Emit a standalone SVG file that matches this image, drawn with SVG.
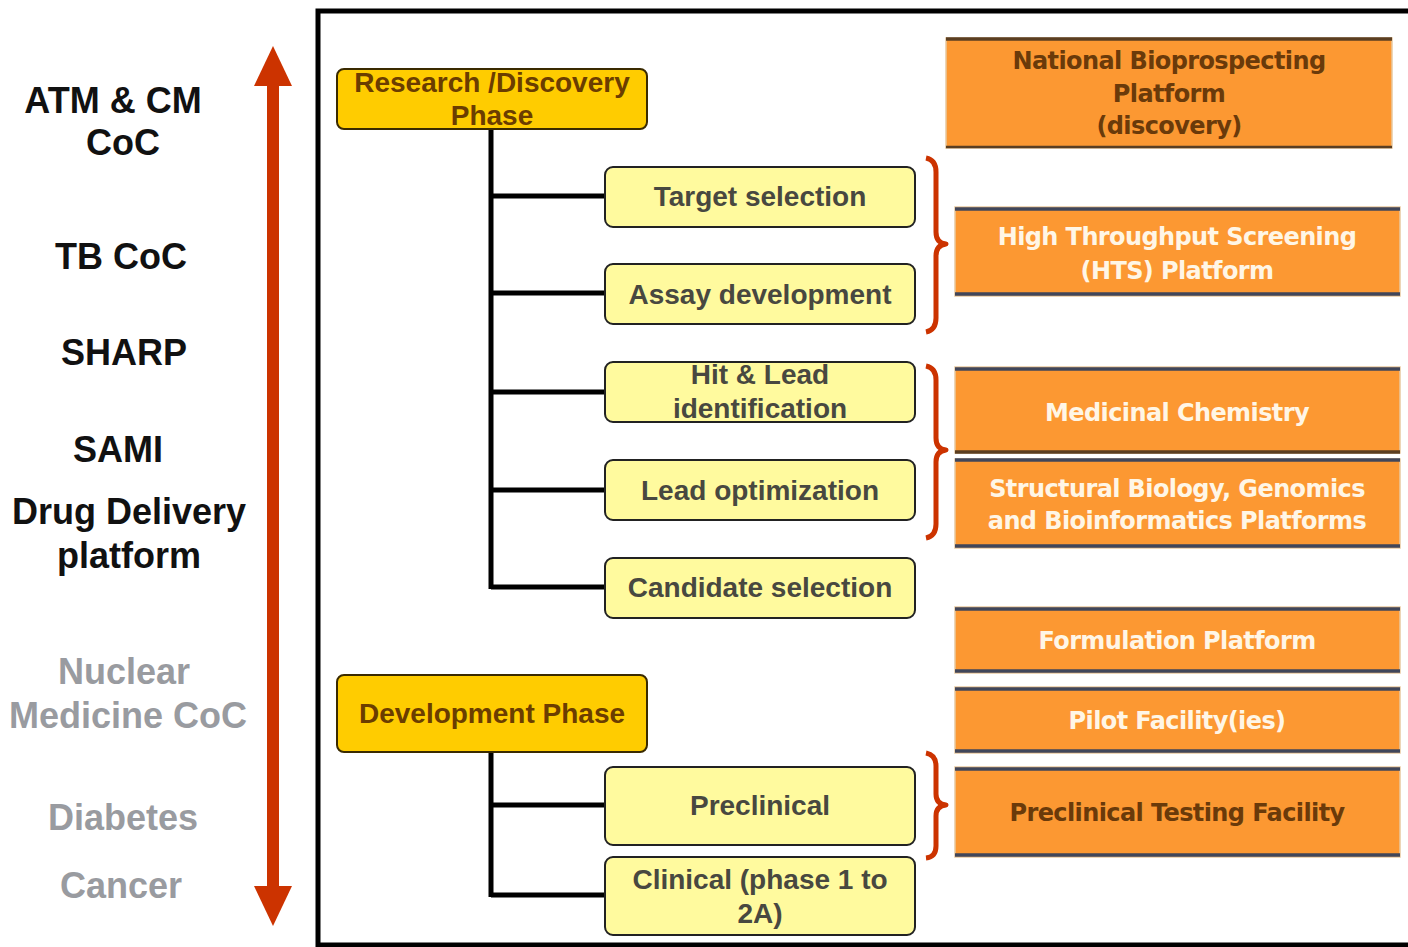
<svg xmlns="http://www.w3.org/2000/svg" width="1408" height="947" viewBox="0 0 1408 947">
<defs>
<style>
.lbl{font-family:"Liberation Sans",Arial,sans-serif;font-weight:bold;font-size:36px;text-anchor:middle}
.blk{fill:#111}
.gry{fill:#999ba0}
.phase{fill:#FFCC00;stroke:#3a2a00;stroke-width:2}
.ptxt{font-family:"Liberation Sans",Arial,sans-serif;font-weight:bold;font-size:28px;fill:#6b3d00;text-anchor:middle}
.step{fill:#FFFA9E;stroke:#222;stroke-width:2}
.stxt{font-family:"Liberation Sans",Arial,sans-serif;font-weight:bold;font-size:28px;fill:#484840;text-anchor:middle}
.plat{fill:#FC9832;stroke:#e8c9a0;stroke-width:1.5}
.edge{stroke:#40465a;stroke-width:3.5}
.otw{font-family:"DejaVu Sans",Verdana,sans-serif;font-weight:bold;font-size:24px;fill:#fff6e6;text-anchor:middle;letter-spacing:-0.6px}
.otd{font-family:"DejaVu Sans",Verdana,sans-serif;font-weight:bold;font-size:24px;fill:#6a3a0a;text-anchor:middle;letter-spacing:-0.6px}
.conn{stroke:#000;stroke-width:5;fill:none}
.brace{stroke:#CC3300;stroke-width:5;fill:none;stroke-linejoin:round}
</style>
</defs>
<rect width="1408" height="947" fill="#fff"/>

<g id="frame">
<path d="M1408,11 H318 V945 H1408" fill="none" stroke="#000" stroke-width="5"/>
</g>

<g id="left-labels">
<text class="lbl blk" x="113" y="113">ATM &amp; CM</text>
<text class="lbl blk" x="123" y="155">CoC</text>
<text class="lbl blk" x="121" y="269">TB CoC</text>
<text class="lbl blk" x="124" y="365">SHARP</text>
<text class="lbl blk" x="118" y="462">SAMI</text>
<text class="lbl blk" x="129" y="524">Drug Delivery</text>
<text class="lbl blk" x="129" y="568">platform</text>
<text class="lbl gry" x="124" y="684">Nuclear</text>
<text class="lbl gry" x="128" y="728">Medicine CoC</text>
<text class="lbl gry" x="123" y="830">Diabetes</text>
<text class="lbl gry" x="121" y="898">Cancer</text>
</g>

<g id="axis-arrow">
<rect x="267" y="82" width="12" height="810" fill="#CC3300"/>
<polygon points="273,46 292,86 254,86" fill="#CC3300"/>
<polygon points="273,926 292,886 254,886" fill="#CC3300"/>
</g>

<g id="connectors">
<path class="conn" d="M491,129 V589 M491,196 H606 M491,293 H606 M491,392 H606 M491,490 H606 M491,587 H606"/>
<path class="conn" d="M491,752 V897 M491,805 H606 M491,895 H606"/>
<path class="brace" d="M926,158 Q936,160 936,172 V232 Q936,243 946,244 Q936,245 936,256 V318 Q936,330 926,332"/>
<path class="brace" d="M926,366 Q936,368 936,380 V438 Q936,449 946,450 Q936,451 936,462 V524 Q936,536 926,538"/>
<path class="brace" d="M926,753 Q936,755 936,766 V794 Q936,804 946,805 Q936,806 936,816 V846 Q936,857 926,858"/>
</g>

<g id="research-phase">
<rect class="phase" x="337" y="69" width="310" height="60" rx="7"/>
<text class="ptxt" x="492" y="92">Research /Discovery</text>
<text class="ptxt" x="492" y="125">Phase</text>
</g>
<g id="target-selection">
<rect class="step" x="605" y="167" width="310" height="60" rx="8"/>
<text class="stxt" x="760" y="206">Target selection</text>
</g>
<g id="assay-development">
<rect class="step" x="605" y="264" width="310" height="60" rx="8"/>
<text class="stxt" x="760" y="304">Assay development</text>
</g>
<g id="hit-lead">
<rect class="step" x="605" y="362" width="310" height="60" rx="8"/>
<text class="stxt" x="760" y="384">Hit &amp; Lead</text>
<text class="stxt" x="760" y="418">identification</text>
</g>
<g id="lead-optimization">
<rect class="step" x="605" y="460" width="310" height="60" rx="8"/>
<text class="stxt" x="760" y="500">Lead optimization</text>
</g>
<g id="candidate-selection">
<rect class="step" x="605" y="558" width="310" height="60" rx="8"/>
<text class="stxt" x="760" y="597">Candidate selection</text>
</g>

<g id="development-phase">
<rect class="phase" x="337" y="675" width="310" height="77" rx="7"/>
<text class="ptxt" x="492" y="723">Development Phase</text>
</g>
<g id="preclinical">
<rect class="step" x="605" y="767" width="310" height="78" rx="8"/>
<text class="stxt" x="760" y="815">Preclinical</text>
</g>
<g id="clinical">
<rect class="step" x="605" y="857" width="310" height="78" rx="8"/>
<text class="stxt" x="760" y="889">Clinical (phase 1 to</text>
<text class="stxt" x="760" y="923">2A)</text>
</g>

<g id="national-bioprospecting">
<rect class="plat" x="946" y="38" width="446" height="110"/>
<line class="edge" x1="946" y1="39" x2="1392" y2="39" style="stroke:#5a3e22"/>
<line class="edge" x1="946" y1="147" x2="1392" y2="147" style="stroke:#5a3e22;stroke-width:2.5"/>
<text class="otd" x="1169" y="69">National Bioprospecting</text>
<text class="otd" x="1169" y="102">Platform</text>
<text class="otd" x="1169" y="134">(discovery)</text>
</g>
<g id="hts-platform">
<rect class="plat" x="955" y="207" width="445" height="89"/>
<line class="edge" x1="955" y1="209" x2="1400" y2="209"/>
<line class="edge" x1="955" y1="294" x2="1400" y2="294"/>
<text class="otw" x="1177" y="245">High Throughput Screening</text>
<text class="otw" x="1177" y="279">(HTS) Platform</text>
</g>
<g id="medicinal-chemistry">
<rect class="plat" x="955" y="367" width="445" height="86"/>
<line class="edge" x1="955" y1="369" x2="1400" y2="369"/>
<line class="edge" x1="955" y1="452" x2="1400" y2="452" style="stroke:#5a3e22"/>
<text class="otw" x="1177" y="421">Medicinal Chemistry</text>
</g>
<g id="structural-biology">
<rect class="plat" x="955" y="459" width="445" height="89"/>
<line class="edge" x1="955" y1="460" x2="1400" y2="460"/>
<line class="edge" x1="955" y1="546" x2="1400" y2="546"/>
<text class="otw" x="1177" y="497">Structural Biology, Genomics</text>
<text class="otw" x="1177" y="529">and Bioinformatics Platforms</text>
</g>
<g id="formulation-platform">
<rect class="plat" x="955" y="607" width="445" height="66"/>
<line class="edge" x1="955" y1="609" x2="1400" y2="609"/>
<line class="edge" x1="955" y1="671" x2="1400" y2="671"/>
<text class="otw" x="1177" y="649">Formulation Platform</text>
</g>
<g id="pilot-facility">
<rect class="plat" x="955" y="687" width="445" height="66"/>
<line class="edge" x1="955" y1="689" x2="1400" y2="689"/>
<line class="edge" x1="955" y1="751" x2="1400" y2="751"/>
<text class="otw" x="1177" y="729">Pilot Facility(ies)</text>
</g>
<g id="preclinical-testing">
<rect class="plat" x="955" y="767" width="445" height="90"/>
<line class="edge" x1="955" y1="769" x2="1400" y2="769"/>
<line class="edge" x1="955" y1="855" x2="1400" y2="855"/>
<text class="otd" x="1177" y="821">Preclinical Testing Facility</text>
</g>
</svg>
